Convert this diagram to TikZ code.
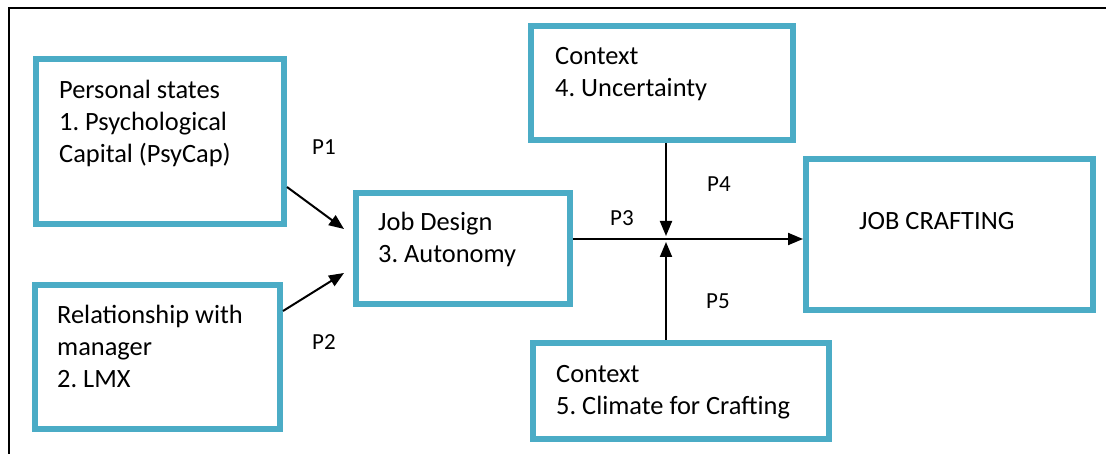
\documentclass[tikz,border=0pt]{standalone}
\usepackage{fontspec}
\setmainfont{Carlito}
\frenchspacing
\usetikzlibrary{arrows.meta}
\definecolor{boxblue}{RGB}{75,172,198}

\begin{document}
\begin{tikzpicture}[x=1pt,y=-1pt,
    box/.style 2 args={draw=boxblue,line width=6pt,inner sep=0pt,
      minimum width=#1,minimum height=#2},
    txt/.style={anchor=base west,align=left,inner sep=0pt,
      font=\fontsize{26.4}{32}\selectfont},
    lbl/.style={anchor=base west,inner sep=0pt,
      font=\fontsize{23}{27}\selectfont},
    arr/.style={-{Triangle[length=15pt,width=12pt]},line width=2pt}]
  \useasboundingbox (0,0) rectangle (1106,454);
  % frame
  \draw[line width=2pt] (9,454) -- (9,8);
  \draw[line width=2.6pt] (8,8) -- (1106,8);
  % boxes
  \node[box={248pt}{165pt}] (psy) at (160,141.5) {};
  \node[box={245pt}{144pt}] (lmx) at (157.5,357) {};
  \node[box={214pt}{111pt}] (jd) at (463,248.5) {};
  \node[box={262pt}{114pt}] (unc) at (662,83) {};
  \node[box={296pt}{96pt}] (clim) at (681,391) {};
  \node[box={287pt}{151pt}] (jc) at (949.5,234.5) {};
  % texts (placed at the baseline of their last line)
  \node[txt] (psytxt) at (59,163) {Personal states\\1. Psychological\\Capital (PsyCap)};
  \node[txt] (lmxtxt) at (57,387) {Relationship with\\manager\\2. LMX};
  \node[txt] (jdtxt) at (378,263) {Job Design\\3. Autonomy};
  \node[txt] (unctxt) at (555,97) {Context\\4. Uncertainty};
  \node[txt] (climtxt) at (556,414) {Context\\5. Climate for Crafting};
  \node[txt] (jctxt) at (859,230) {JOB CRAFTING};
  % labels
  \node[lbl] (p1) at (312,155) {P1};
  \node[lbl] (p2) at (312,350) {P2};
  \node[lbl] (p3) at (610,226) {P3};
  \node[lbl] (p4) at (707,192) {P4};
  \node[lbl] (p5) at (706,309) {P5};
  % arrows
  \coordinate (hub) at (666,239);
  \begin{scope}[arr]
    \draw ([yshift=-45.5pt]psy.east) to ([shift={(-9pt,19.5pt)}]jd.west);
    \draw ([yshift=46pt]lmx.east) to ([shift={(-9pt,-24.5pt)}]jd.west);
    \draw (jd.east |- hub) to (jc.west |- hub);
    \draw (unc.south -| hub) to ([yshift=3pt]hub);
    \draw (clim.north -| hub) to ([yshift=-3pt]hub);
  \end{scope}
\end{tikzpicture}
\end{document}
